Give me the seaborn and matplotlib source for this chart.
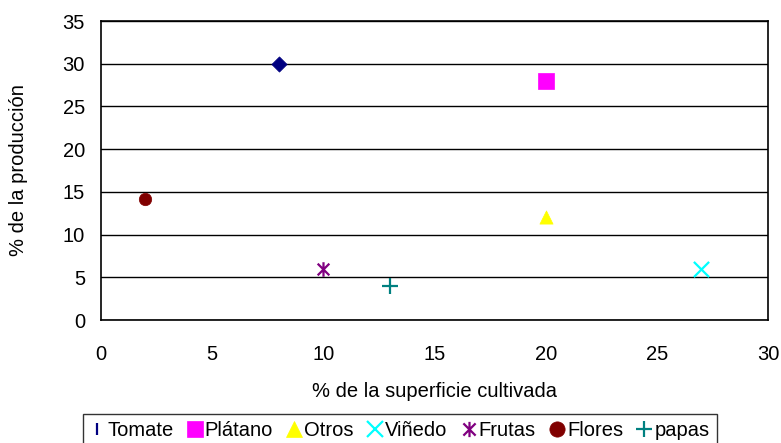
import matplotlib
matplotlib.use("Agg")
import matplotlib.pyplot as plt
import seaborn as sns
import pandas as pd
from matplotlib.path import Path
from matplotlib.lines import Line2D

series = ["Tomate", "Plátano", "Otros", "Viñedo", "Frutas", "Flores", "papas"]
x_vals = [8, 20, 20, 27, 10, 2, 13]
y_vals = [30, 28, 12, 6, 6, 14.2, 4]
x_ticks = [0, 5, 10, 15, 20, 25, 30]
y_ticks = [0, 5, 10, 15, 20, 25, 30, 35]

colors = ["#000080", "#FF00FF", "#FFFF00", "#00FFFF", "#800080", "#800000", "#008080"]
star = Path([(-1, -1), (1, 1), (-1, 1), (1, -1), (0, -1.25), (0, 1.25)],
            [Path.MOVETO, Path.LINETO, Path.MOVETO, Path.LINETO, Path.MOVETO, Path.LINETO])
markers = ["D", "s", "^", "x", star, "o", "+"]
open_flags = [False, False, False, True, True, False, True]
sizes = [60, 120, 90, 120, 110, 80, 120]
legend_markers = ["|", "s", "^", "x", star, "o", "+"]

sns.set_style("white")
plt.rcParams["font.family"] = ["Liberation Sans", "DejaVu Sans"]
plt.rcParams["text.color"] = "black"
plt.rcParams["axes.labelcolor"] = "black"
plt.rcParams["xtick.color"] = "black"
plt.rcParams["ytick.color"] = "black"

fig = plt.figure(figsize=(7.81, 4.43), dpi=100)
ax = fig.add_axes([101 / 781, 1 - 320 / 443, 667 / 781, 299 / 443])

df = pd.DataFrame({"serie": series, "x": x_vals, "y": y_vals})
for i, s in enumerate(series):
    sub = df[df["serie"] == s]
    kw = dict(color=colors[i], s=sizes[i], marker=markers[i], ax=ax, zorder=3, label=s,
              edgecolor=colors[i])
    kw["linewidth"] = 1.6 if open_flags[i] else 0.5
    sns.scatterplot(data=sub, x="x", y="y", **kw)

ax.set_xlim(0, 30)
ax.set_ylim(0, 35)
ax.set_xticks(x_ticks)
ax.set_yticks(y_ticks)
ax.yaxis.grid(True, color="black", linewidth=1)
ax.set_axisbelow(True)
for sp in ax.spines.values():
    sp.set_color("black")
    sp.set_linewidth(1.2)
ax.tick_params(axis="x", direction="out", length=5, width=1, labelsize=14.5, pad=13,
               color="black", labelcolor="black")
ax.tick_params(axis="y", direction="inout", length=7, width=1, labelsize=14.5, pad=8,
               color="black", labelcolor="black")
ax.set_xlabel("% de la superficie cultivada", fontsize=14.5, labelpad=13, color="black")
ax.set_ylabel("% de la producción", fontsize=14.5, labelpad=25, color="black")

if ax.get_legend() is not None:
    ax.get_legend().remove()

handles = []
for i, s in enumerate(series):
    m = legend_markers[i]
    open_m = open_flags[i] or m == "|"
    handles.append(Line2D([], [], linestyle="none", marker=m, color=colors[i],
                          markerfacecolor=colors[i], markeredgecolor=colors[i],
                          markersize=11 if m != "|" else 9,
                          markeredgewidth=1.6 if open_m else 0.5, label=s))
leg = fig.legend(handles=handles, loc="upper center", bbox_to_anchor=(0.512, 1 - 414 / 443),
                 ncol=7, frameon=True, fontsize=14.5, handlelength=0.7, handletextpad=0.15,
                 columnspacing=0.7, borderpad=0.35, fancybox=False, borderaxespad=0)
leg.get_frame().set_edgecolor("black")
leg.get_frame().set_linewidth(1)
for t in leg.get_texts():
    t.set_color("black")

fig.savefig("out.png", dpi=100)
